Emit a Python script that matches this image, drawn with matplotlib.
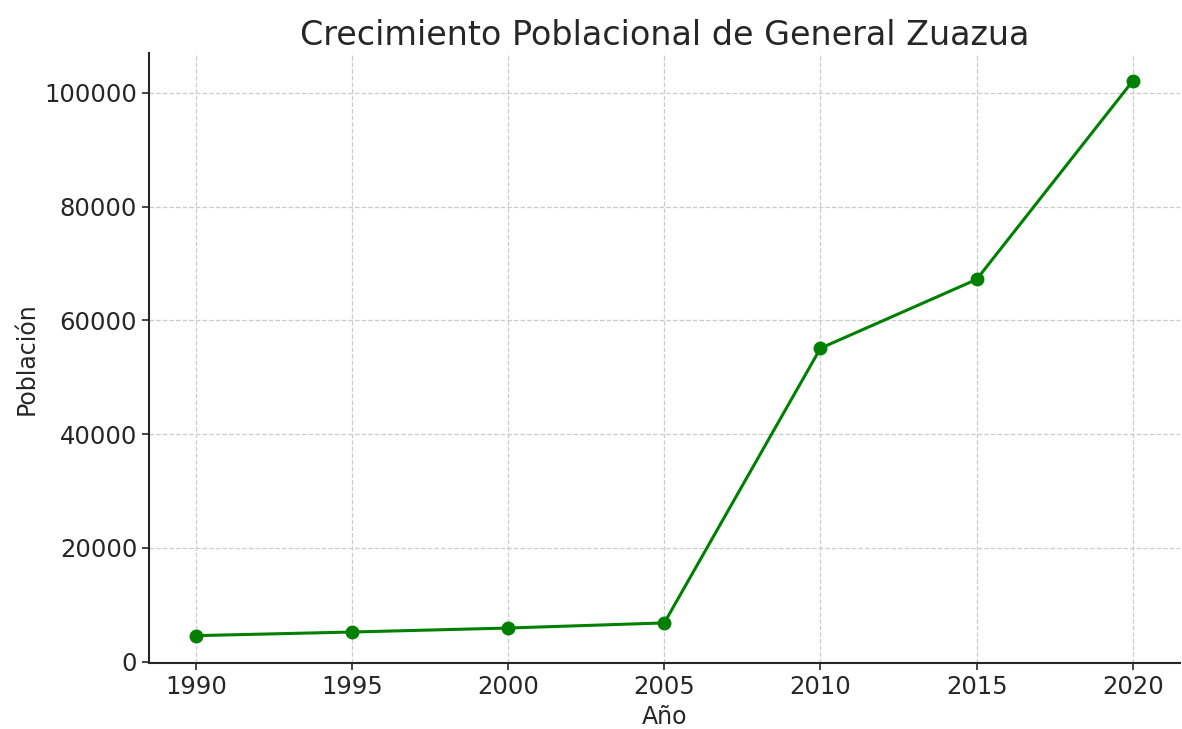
import matplotlib.pyplot as plt

# datos
anios = [1990, 1995, 2000, 2005, 2010, 2015, 2020]
poblacion = [4560, 5200, 5900, 6800, 55100, 67200, 102100]

fig = plt.figure(figsize=(11.82, 7.29), dpi=100)
ax = fig.add_axes([0.126, 0.09, 0.872, 0.837])

ax.plot(anios, poblacion, color="green", marker="o", linewidth=2.2, markersize=9)

ax.set_title("Crecimiento Poblacional de General Zuazua", fontsize=24, color="#262626")
ax.set_xlabel("Año", fontsize=17, color="#262626")
ax.set_ylabel("Población", fontsize=17, color="#262626")
ax.set_xticks(anios)
ax.tick_params(labelsize=17.5, colors="#262626", length=5, width=1.2)

ax.grid(True, linestyle="--", color="#cccccc", linewidth=0.9)
ax.spines["top"].set_visible(False)
ax.spines["right"].set_visible(False)
ax.spines["left"].set_color("#262626")
ax.spines["bottom"].set_color("#262626")
ax.spines["left"].set_linewidth(1.5)
ax.spines["bottom"].set_linewidth(1.5)

fig.savefig("out.png", dpi=100)
